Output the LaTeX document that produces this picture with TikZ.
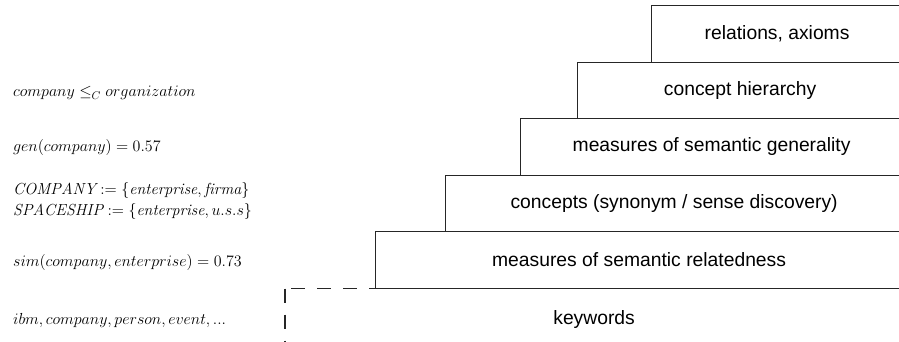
\RequirePackage{fix-cm}
\documentclass[tikz,border=0pt]{standalone}
\usepackage{fontspec}
\newfontfamily\layerfont{Liberation Sans}
\begin{document}
\begin{tikzpicture}[x=1pt,y=-1pt,
  layer/.style={draw=black!85, line width=1.2pt, anchor=north west,
    inner sep=0pt, font=\layerfont\fontsize{19.3}{23}\selectfont},
  openlayer/.style={layer, draw=none},
  dashedge/.style={draw=black!85, line width=1.2pt, dash pattern=on 14pt off 12pt},
  example/.style={anchor=west, inner sep=0pt, align=left,
    font=\fontsize{16}{21}\selectfont}]
\useasboundingbox (0,0) rectangle (899,341);
\clip (0,0) rectangle (899,341);

% pyramid of layers, widest at the bottom
\node[openlayer, minimum width=617pt, minimum height=60pt] (kw) at (285,288.5) {keywords};
\draw[dashedge] (kw.north west) -- (kw.south west);
\draw[dashedge, dash phase=20pt] (kw.north west) -- (kw.north east);
\node[layer, minimum width=527pt, minimum height=56.5pt] (rel) at (375,231) {measures of semantic relatedness};
\node[layer, minimum width=457pt, minimum height=56.5pt] (con) at (445,174.5) {concepts (synonym / sense discovery)};
\node[layer, minimum width=382pt, minimum height=56.5pt] (gen) at (520,118) {measures of semantic generality};
\node[layer, minimum width=325pt, minimum height=56.5pt] (hier) at (577,61.5) {concept hierarchy};
\node[layer, minimum width=251pt, minimum height=56.5pt] (ax) at (651,5) {relations, axioms};

% examples for each layer
\node[example] (exhier) at (13,93) {$company \leq_C organization$};
\node[example] (exgen) at (13,147) {$gen(company) = 0.57$};
\node[example] (excon) at (13,200.5) {$\mathit{COMPANY} \mathrel{:=} \{\mathit{enterprise}, \mathit{firma}\}$\\
  $\mathit{SPACESHIP} \mathrel{:=} \{\mathit{enterprise}, u.s.s\}$};
\node[example] (exrel) at (13,262) {$sim(company, enterprise) = 0.73$};
\node[example] (exkw) at (13,320) {$ibm, company, person, event, ...$};
\end{tikzpicture}
\end{document}
